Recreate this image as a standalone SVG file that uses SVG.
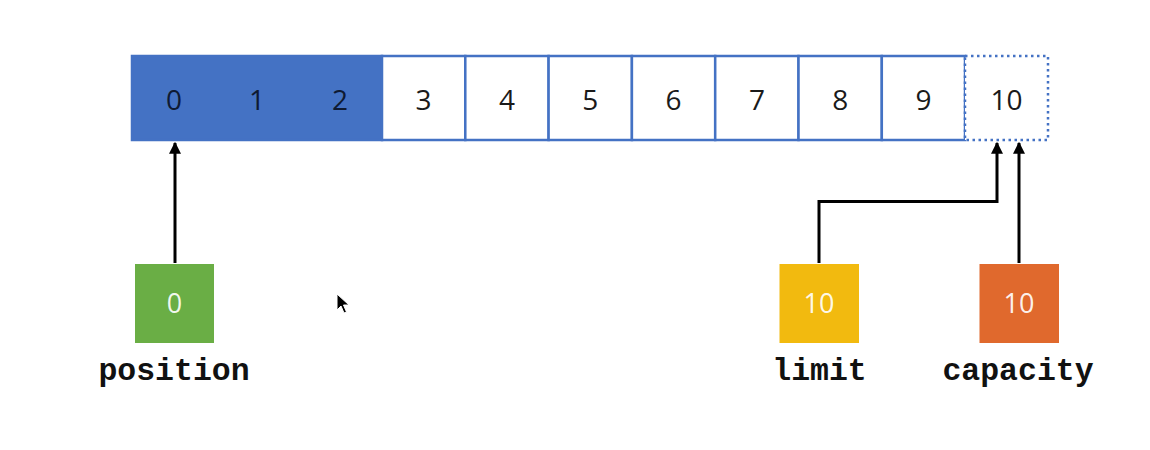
<svg xmlns="http://www.w3.org/2000/svg" width="1150" height="450" viewBox="0 0 1150 450">
<style>
.num{font-family:"Open Sans","Liberation Sans",sans-serif;font-size:28px;text-anchor:middle;fill:#1a1a1a}
.bnum{fill:#0e1a33}
.val{font-family:"Open Sans","Liberation Sans",sans-serif;font-size:27px;text-anchor:middle;fill:#ffffff;fill-opacity:0.92}
.lbl{font-family:"Liberation Mono","Courier New",monospace;font-weight:bold;font-size:31.5px;text-anchor:middle;fill:#111}
.cell{fill:#ffffff;stroke:#4472c4;stroke-width:2.5}
.wire{fill:none;stroke:#000;stroke-width:3}
</style>
<defs>
<marker id="ah" viewBox="0 0 10 10" refX="9" refY="5" markerWidth="4" markerHeight="4" orient="auto" markerUnits="strokeWidth">
<path d="M0,0 L10,5 L0,10 z" fill="#000"/>
</marker>
</defs>
<rect width="1150" height="450" fill="#ffffff"/>
<g id="buffer">
<rect x="132" y="56" width="250" height="84" fill="#4472c4" stroke="#4472c4" stroke-width="2.5"/>
<rect class="cell" x="382" y="56" width="83.3" height="84"/>
<rect class="cell" x="465.3" y="56" width="83.3" height="84"/>
<rect class="cell" x="548.6" y="56" width="83.3" height="84"/>
<rect class="cell" x="631.9" y="56" width="83.3" height="84"/>
<rect class="cell" x="715.2" y="56" width="83.3" height="84"/>
<rect class="cell" x="798.5" y="56" width="83.3" height="84"/>
<rect class="cell" x="881.8" y="56" width="83.2" height="84"/>
<rect x="965" y="56" width="83" height="84" fill="#ffffff" stroke="#4472c4" stroke-width="2.5" stroke-dasharray="2.5 3.5"/>
<text class="num bnum" x="174" y="110">0</text>
<text class="num bnum" x="257" y="110">1</text>
<text class="num bnum" x="340" y="110">2</text>
<text class="num" x="423.6" y="110">3</text>
<text class="num" x="507" y="110">4</text>
<text class="num" x="590.3" y="110">5</text>
<text class="num" x="673.6" y="110">6</text>
<text class="num" x="756.9" y="110">7</text>
<text class="num" x="840.2" y="110">8</text>
<text class="num" x="923.4" y="110">9</text>
<text class="num" x="1006.5" y="110">10</text>
</g>
<g id="connectors">
<path class="wire" d="M175,263 L175,143" marker-end="url(#ah)"/>
<path class="wire" d="M819,263 L819,201.5 L997,201.5 L997,143" marker-end="url(#ah)"/>
<path class="wire" d="M1019,263 L1019,143" marker-end="url(#ah)"/>
</g>
<g id="position">
<rect x="135" y="264" width="79" height="79" fill="#6aae45"/>
<text class="val" x="174.5" y="313">0</text>
<text class="lbl" x="174" y="380">position</text>
</g>
<g id="limit">
<rect x="779.5" y="264" width="79.5" height="79" fill="#f2ba0f"/>
<text class="val" x="819" y="313">10</text>
<text class="lbl" x="819.5" y="380">limit</text>
</g>
<g id="capacity">
<rect x="979.5" y="264" width="79.5" height="79" fill="#e0692d"/>
<text class="val" x="1019" y="313">10</text>
<text class="lbl" x="1018" y="380">capacity</text>
</g>
<path d="M337,294 L337,310 L341,306 L344,313 L346.5,312 L343.5,305 L349,305 z" fill="#000" stroke="#fff" stroke-width="1"/>
</svg>
